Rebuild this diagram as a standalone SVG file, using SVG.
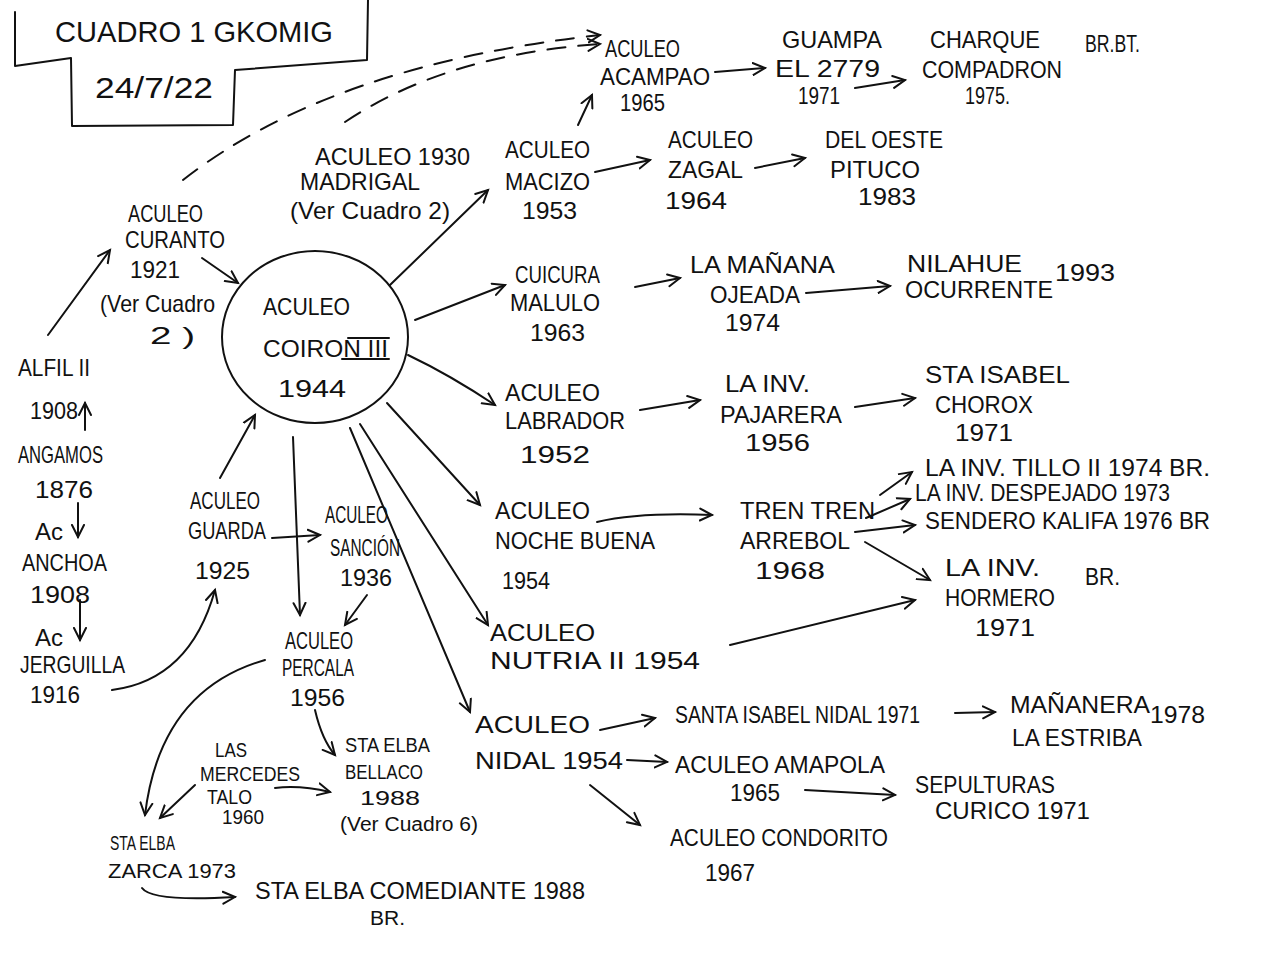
<svg xmlns="http://www.w3.org/2000/svg" width="1280" height="960" viewBox="0 0 1280 960">
<style>
text{font-family:"Liberation Sans","DejaVu Sans",sans-serif;font-size:24px;fill:#111}
.s{font-size:20px}
.t{font-size:30px}
.c{fill:none;stroke:#111;stroke-width:2;stroke-linecap:round;stroke-linejoin:round}
.d{stroke-dasharray:18 13}
</style>
<defs>
<marker id="a" markerUnits="userSpaceOnUse" markerWidth="16" markerHeight="16" refX="13" refY="7" orient="auto" viewBox="0 0 16 14">
<path d="M1,1 L13,7 L1,13" fill="none" stroke="#111" stroke-width="2" stroke-linecap="round"/>
</marker>
</defs>
<rect width="1280" height="960" fill="#fff"/>
<g id="title">
<path class="c" d="M15,12 L15,66 L71,58 L72,126 L233,125 L235,70 L367,60 L368,0"/>
<text class="t" x="55" y="42" textLength="278" lengthAdjust="spacingAndGlyphs">CUADRO 1 GKOMIG</text>
<text class="t" x="95" y="98" textLength="118" lengthAdjust="spacingAndGlyphs">24/7/22</text>
</g>
<g id="connectors">
<path class="c d" d="M183,180 Q330,65 600,35" marker-end="url(#a)"/>
<path class="c d" d="M345,122 Q445,55 600,44" marker-end="url(#a)"/>
<path class="c" d="M578,125 L592,95" marker-end="url(#a)"/>
<path class="c" d="M715,72 L765,68" marker-end="url(#a)"/>
<path class="c" d="M855,88 L905,80" marker-end="url(#a)"/>
<path class="c" d="M595,172 L650,160" marker-end="url(#a)"/>
<path class="c" d="M755,168 L805,158" marker-end="url(#a)"/>
<path class="c" d="M390,285 L488,190" marker-end="url(#a)"/>
<path class="c" d="M415,320 L505,285" marker-end="url(#a)"/>
<path class="c" d="M635,287 L680,278" marker-end="url(#a)"/>
<path class="c" d="M806,293 L890,286" marker-end="url(#a)"/>
<path class="c" d="M408,355 Q450,375 495,405" marker-end="url(#a)"/>
<path class="c" d="M640,410 L700,400" marker-end="url(#a)"/>
<path class="c" d="M855,407 L915,398" marker-end="url(#a)"/>
<path class="c" d="M387,403 L480,505" marker-end="url(#a)"/>
<path class="c" d="M360,424 L488,625" marker-end="url(#a)"/>
<path class="c" d="M350,428 L470,712" marker-end="url(#a)"/>
<path class="c" d="M293,437 L300,615" marker-end="url(#a)"/>
<path class="c" d="M220,478 L255,415" marker-end="url(#a)"/>
<path class="c" d="M272,538 L320,535" marker-end="url(#a)"/>
<path class="c" d="M367,595 L345,625" marker-end="url(#a)"/>
<path class="c" d="M202,258 L238,283" marker-end="url(#a)"/>
<path class="c" d="M48,335 L110,250" marker-end="url(#a)"/>
<path class="c" d="M85,430 L85,403" marker-end="url(#a)"/>
<path class="c" d="M78,503 L78,537" marker-end="url(#a)"/>
<path class="c" d="M80,600 L80,640" marker-end="url(#a)"/>
<path class="c" d="M112,690 Q190,680 215,590" marker-end="url(#a)"/>
<path class="c" d="M265,660 Q160,690 145,815" marker-end="url(#a)"/>
<path class="c" d="M195,785 L160,818" marker-end="url(#a)"/>
<path class="c" d="M315,710 Q322,740 335,755" marker-end="url(#a)"/>
<path class="c" d="M275,788 Q300,785 330,792" marker-end="url(#a)"/>
<path class="c" d="M142,888 Q152,902 235,897" marker-end="url(#a)"/>
<path class="c" d="M600,730 L655,718" marker-end="url(#a)"/>
<path class="c" d="M955,713 L995,712" marker-end="url(#a)"/>
<path class="c" d="M627,760 L667,762" marker-end="url(#a)"/>
<path class="c" d="M590,785 L640,825" marker-end="url(#a)"/>
<path class="c" d="M805,790 L895,795" marker-end="url(#a)"/>
<path class="c" d="M597,522 Q640,512 712,515" marker-end="url(#a)"/>
<path class="c" d="M880,495 L912,472" marker-end="url(#a)"/>
<path class="c" d="M866,518 L910,499" marker-end="url(#a)"/>
<path class="c" d="M855,532 L915,525" marker-end="url(#a)"/>
<path class="c" d="M865,542 L930,580" marker-end="url(#a)"/>
<path class="c" d="M730,645 L915,600" marker-end="url(#a)"/>
</g>
<g id="acampao"><text x="605" y="57" textLength="75" lengthAdjust="spacingAndGlyphs">ACULEO</text><text x="600" y="85" textLength="110" lengthAdjust="spacingAndGlyphs">ACAMPAO</text><text x="620" y="111" textLength="45" lengthAdjust="spacingAndGlyphs">1965</text></g>
<g id="guampa"><text x="782" y="48" textLength="100" lengthAdjust="spacingAndGlyphs">GUAMPA</text><text x="775" y="77" textLength="105" lengthAdjust="spacingAndGlyphs">EL 2779</text><text x="798" y="104" textLength="42" lengthAdjust="spacingAndGlyphs">1971</text></g>
<g id="charque"><text x="930" y="48" textLength="110" lengthAdjust="spacingAndGlyphs">CHARQUE</text><text x="922" y="78" textLength="140" lengthAdjust="spacingAndGlyphs">COMPADRON</text><text x="965" y="104" textLength="45" lengthAdjust="spacingAndGlyphs">1975.</text><text x="1085" y="52" textLength="55" lengthAdjust="spacingAndGlyphs">BR.BT.</text></g>
<g id="madrigal"><text x="315" y="165" textLength="155" lengthAdjust="spacingAndGlyphs">ACULEO 1930</text><text x="300" y="190" textLength="120" lengthAdjust="spacingAndGlyphs">MADRIGAL</text><text x="290" y="219" textLength="160" lengthAdjust="spacingAndGlyphs">(Ver Cuadro 2)</text></g>
<g id="macizo"><text x="505" y="158" textLength="85" lengthAdjust="spacingAndGlyphs">ACULEO</text><text x="505" y="190" textLength="85" lengthAdjust="spacingAndGlyphs">MACIZO</text><text x="522" y="219" textLength="55" lengthAdjust="spacingAndGlyphs">1953</text></g>
<g id="zagal"><text x="668" y="148" textLength="85" lengthAdjust="spacingAndGlyphs">ACULEO</text><text x="668" y="178" textLength="75" lengthAdjust="spacingAndGlyphs">ZAGAL</text><text x="665" y="209" textLength="62" lengthAdjust="spacingAndGlyphs">1964</text></g>
<g id="deloeste"><text x="825" y="148" textLength="118" lengthAdjust="spacingAndGlyphs">DEL OESTE</text><text x="830" y="178" textLength="90" lengthAdjust="spacingAndGlyphs">PITUCO</text><text x="858" y="205" textLength="58" lengthAdjust="spacingAndGlyphs">1983</text></g>
<g id="curanto"><text x="128" y="222" textLength="75" lengthAdjust="spacingAndGlyphs">ACULEO</text><text x="125" y="248" textLength="100" lengthAdjust="spacingAndGlyphs">CURANTO</text><text x="130" y="278" textLength="50" lengthAdjust="spacingAndGlyphs">1921</text><text x="100" y="312" textLength="115" lengthAdjust="spacingAndGlyphs">(Ver Cuadro</text><text x="150" y="344" textLength="45" lengthAdjust="spacingAndGlyphs">2 )</text></g>
<g id="coiron">
<ellipse class="c" cx="315" cy="337" rx="93" ry="86"/>
<text x="263" y="315" textLength="87" lengthAdjust="spacingAndGlyphs">ACULEO</text>
<text x="263" y="357" textLength="125" lengthAdjust="spacingAndGlyphs">COIRON III</text>
<path class="c" d="M342,359 L389,359 M348,338 L389,338"/>
<text x="278" y="397" textLength="68" lengthAdjust="spacingAndGlyphs">1944</text>
</g>
<g id="cuicura"><text x="515" y="283" textLength="85" lengthAdjust="spacingAndGlyphs">CUICURA</text><text x="510" y="311" textLength="90" lengthAdjust="spacingAndGlyphs">MALULO</text><text x="530" y="341" textLength="55" lengthAdjust="spacingAndGlyphs">1963</text></g>
<g id="lamanana"><text x="690" y="273" textLength="145" lengthAdjust="spacingAndGlyphs">LA MAÑANA</text><text x="710" y="303" textLength="90" lengthAdjust="spacingAndGlyphs">OJEADA</text><text x="725" y="331" textLength="55" lengthAdjust="spacingAndGlyphs">1974</text></g>
<g id="nilahue"><text x="907" y="272" textLength="115" lengthAdjust="spacingAndGlyphs">NILAHUE</text><text x="905" y="298" textLength="148" lengthAdjust="spacingAndGlyphs">OCURRENTE</text><text x="1055" y="281" textLength="60" lengthAdjust="spacingAndGlyphs">1993</text></g>
<g id="alfil"><text x="18" y="376" textLength="72" lengthAdjust="spacingAndGlyphs">ALFIL II</text><text x="30" y="419" textLength="48" lengthAdjust="spacingAndGlyphs">1908</text></g>
<g id="angamos"><text x="18" y="463" textLength="85" lengthAdjust="spacingAndGlyphs">ANGAMOS</text><text x="35" y="498" textLength="58" lengthAdjust="spacingAndGlyphs">1876</text></g>
<g id="anchoa"><text x="35" y="540" textLength="28" lengthAdjust="spacingAndGlyphs">Ac</text><text x="22" y="571" textLength="85" lengthAdjust="spacingAndGlyphs">ANCHOA</text><text x="30" y="603" textLength="60" lengthAdjust="spacingAndGlyphs">1908</text></g>
<g id="jerguilla"><text x="35" y="646" textLength="28" lengthAdjust="spacingAndGlyphs">Ac</text><text x="20" y="673" textLength="105" lengthAdjust="spacingAndGlyphs">JERGUILLA</text><text x="30" y="703" textLength="50" lengthAdjust="spacingAndGlyphs">1916</text></g>
<g id="labrador"><text x="505" y="401" textLength="95" lengthAdjust="spacingAndGlyphs">ACULEO</text><text x="505" y="429" textLength="120" lengthAdjust="spacingAndGlyphs">LABRADOR</text><text x="520" y="463" textLength="70" lengthAdjust="spacingAndGlyphs">1952</text></g>
<g id="pajarera"><text x="725" y="392" textLength="85" lengthAdjust="spacingAndGlyphs">LA INV.</text><text x="720" y="423" textLength="122" lengthAdjust="spacingAndGlyphs">PAJARERA</text><text x="745" y="451" textLength="65" lengthAdjust="spacingAndGlyphs">1956</text></g>
<g id="staisabel"><text x="925" y="383" textLength="145" lengthAdjust="spacingAndGlyphs">STA ISABEL</text><text x="935" y="413" textLength="98" lengthAdjust="spacingAndGlyphs">CHOROX</text><text x="955" y="441" textLength="58" lengthAdjust="spacingAndGlyphs">1971</text></g>
<g id="tillo"><text x="925" y="476" textLength="285" lengthAdjust="spacingAndGlyphs">LA INV. TILLO II 1974 BR.</text></g>
<g id="despejado"><text x="915" y="501" textLength="255" lengthAdjust="spacingAndGlyphs">LA INV. DESPEJADO 1973</text></g>
<g id="sendero"><text x="925" y="529" textLength="285" lengthAdjust="spacingAndGlyphs">SENDERO KALIFA 1976 BR</text></g>
<g id="hormero"><text x="945" y="576" textLength="95" lengthAdjust="spacingAndGlyphs">LA INV.</text><text x="945" y="606" textLength="110" lengthAdjust="spacingAndGlyphs">HORMERO</text><text x="975" y="636" textLength="60" lengthAdjust="spacingAndGlyphs">1971</text><text x="1085" y="585" textLength="35" lengthAdjust="spacingAndGlyphs">BR.</text></g>
<g id="nochebuena"><text x="495" y="519" textLength="95" lengthAdjust="spacingAndGlyphs">ACULEO</text><text x="495" y="549" textLength="160" lengthAdjust="spacingAndGlyphs">NOCHE BUENA</text><text x="502" y="589" textLength="48" lengthAdjust="spacingAndGlyphs">1954</text></g>
<g id="trentren"><text x="740" y="519" textLength="135" lengthAdjust="spacingAndGlyphs">TREN TREN</text><text x="740" y="549" textLength="110" lengthAdjust="spacingAndGlyphs">ARREBOL</text><text x="755" y="579" textLength="70" lengthAdjust="spacingAndGlyphs">1968</text></g>
<g id="guarda"><text x="190" y="509" textLength="70" lengthAdjust="spacingAndGlyphs">ACULEO</text><text x="188" y="539" textLength="78" lengthAdjust="spacingAndGlyphs">GUARDA</text><text x="195" y="579" textLength="55" lengthAdjust="spacingAndGlyphs">1925</text></g>
<g id="sancion"><text x="325" y="523" textLength="63" lengthAdjust="spacingAndGlyphs">ACULEO</text><text x="330" y="556" textLength="70" lengthAdjust="spacingAndGlyphs">SANCIÓN</text><text x="340" y="586" textLength="52" lengthAdjust="spacingAndGlyphs">1936</text></g>
<g id="percala"><text x="285" y="649" textLength="68" lengthAdjust="spacingAndGlyphs">ACULEO</text><text x="282" y="676" textLength="72" lengthAdjust="spacingAndGlyphs">PERCALA</text><text x="290" y="706" textLength="55" lengthAdjust="spacingAndGlyphs">1956</text></g>
<g id="nutria"><text x="490" y="641" textLength="105" lengthAdjust="spacingAndGlyphs">ACULEO</text><text x="490" y="669" textLength="210" lengthAdjust="spacingAndGlyphs">NUTRIA II 1954</text></g>
<g id="nidal"><text x="475" y="733" textLength="115" lengthAdjust="spacingAndGlyphs">ACULEO</text><text x="475" y="769" textLength="148" lengthAdjust="spacingAndGlyphs">NIDAL 1954</text></g>
<g id="santaisabelnidal"><text x="675" y="723" textLength="245" lengthAdjust="spacingAndGlyphs">SANTA ISABEL NIDAL 1971</text></g>
<g id="mananera"><text x="1010" y="713" textLength="140" lengthAdjust="spacingAndGlyphs">MAÑANERA</text><text x="1012" y="746" textLength="130" lengthAdjust="spacingAndGlyphs">LA ESTRIBA</text><text x="1150" y="723" textLength="55" lengthAdjust="spacingAndGlyphs">1978</text></g>
<g id="amapola"><text x="675" y="773" textLength="210" lengthAdjust="spacingAndGlyphs">ACULEO AMAPOLA</text><text x="730" y="801" textLength="50" lengthAdjust="spacingAndGlyphs">1965</text></g>
<g id="sepulturas"><text x="915" y="793" textLength="140" lengthAdjust="spacingAndGlyphs">SEPULTURAS</text><text x="935" y="819" textLength="155" lengthAdjust="spacingAndGlyphs">CURICO 1971</text></g>
<g id="condorito"><text x="670" y="846" textLength="218" lengthAdjust="spacingAndGlyphs">ACULEO CONDORITO</text><text x="705" y="881" textLength="50" lengthAdjust="spacingAndGlyphs">1967</text></g>
<g id="lasmercedes"><text class="s" x="215" y="757" textLength="32" lengthAdjust="spacingAndGlyphs">LAS</text><text class="s" x="200" y="781" textLength="100" lengthAdjust="spacingAndGlyphs">MERCEDES</text><text class="s" x="207" y="804" textLength="45" lengthAdjust="spacingAndGlyphs">TALO</text><text class="s" x="222" y="824" textLength="42" lengthAdjust="spacingAndGlyphs">1960</text></g>
<g id="bellaco"><text class="s" x="345" y="752" textLength="85" lengthAdjust="spacingAndGlyphs">STA ELBA</text><text class="s" x="345" y="779" textLength="78" lengthAdjust="spacingAndGlyphs">BELLACO</text><text class="s" x="360" y="805" textLength="60" lengthAdjust="spacingAndGlyphs">1988</text><text class="s" x="340" y="831" textLength="138" lengthAdjust="spacingAndGlyphs">(Ver Cuadro 6)</text></g>
<g id="zarca"><text class="s" x="110" y="850" textLength="65" lengthAdjust="spacingAndGlyphs">STA ELBA</text><text class="s" x="108" y="878" textLength="128" lengthAdjust="spacingAndGlyphs">ZARCA 1973</text></g>
<g id="comediante"><text x="255" y="899" textLength="330" lengthAdjust="spacingAndGlyphs">STA ELBA COMEDIANTE 1988</text><text class="s" x="370" y="925" textLength="35" lengthAdjust="spacingAndGlyphs">BR.</text></g>
</svg>
